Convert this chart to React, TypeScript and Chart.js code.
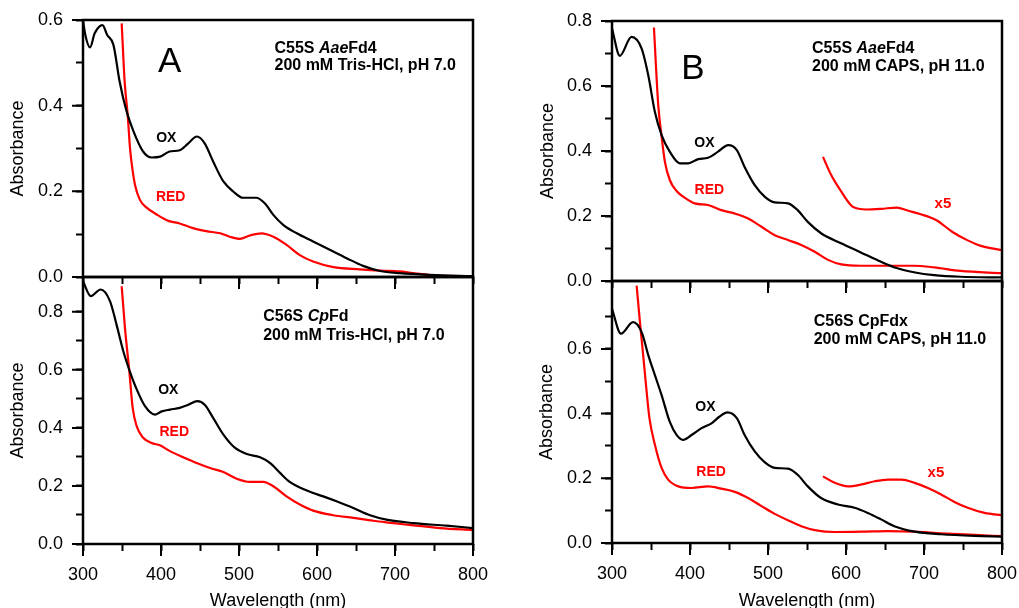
import React, { useEffect, useRef } from "react";
import { Chart, registerables } from "chart.js";

Chart.register(...registerables);

const FONT = "'Liberation Sans', Arial, Helvetica, sans-serif";
const BLACK = "#000000";
const RED = "#ff0000";

// ---------- shared axis values ----------
const xTickValues = [300, 350, 400, 450, 500, 550, 600, 650, 700, 750, 800];
const xTickLabels = ["300", "400", "500", "600", "700", "800"];
const yTickLabels = ["0.0", "0.2", "0.4", "0.6", "0.8"];
const yTicksA = [0, 0.1, 0.2, 0.3, 0.4, 0.5, 0.6];
const yTicksB = [0, 0.1, 0.2, 0.3, 0.4, 0.5, 0.6, 0.7, 0.8];
const yTicksC = [0, 0.1, 0.2, 0.3, 0.4, 0.5, 0.6, 0.7, 0.8];
const yTicksD = [0, 0.1, 0.2, 0.3, 0.4, 0.5, 0.6, 0.7];

// ---------- Panel A : C55S AaeFd4, Tris-HCl pH 7.0 ----------
const aOxWl = [300, 303, 309, 315, 325, 331, 339, 347, 356, 365, 377, 388, 399, 411, 424, 435, 446, 456, 467, 480, 493, 505, 522, 533, 544, 557, 574, 595, 617, 638, 659, 681, 706, 745, 800];
const aOxAbs = [0.600, 0.565, 0.536, 0.569, 0.588, 0.565, 0.542, 0.456, 0.386, 0.339, 0.293, 0.279, 0.281, 0.293, 0.296, 0.312, 0.328, 0.312, 0.269, 0.223, 0.199, 0.185, 0.185, 0.172, 0.145, 0.121, 0.102, 0.083, 0.063, 0.044, 0.026, 0.014, 0.009, 0.005, 0.002];
const aRedWl = [349.6, 353.4, 357.3, 360.3, 363.2, 366.7, 373, 381.6, 394.4, 409.4, 424, 441, 458, 476, 488, 501, 514, 529, 544, 561, 578, 595, 621, 655, 681, 706, 723, 749, 800];
const aRedAbs = [0.592, 0.456, 0.378, 0.300, 0.254, 0.215, 0.180, 0.162, 0.146, 0.131, 0.125, 0.114, 0.107, 0.102, 0.094, 0.089, 0.097, 0.102, 0.094, 0.075, 0.051, 0.036, 0.023, 0.018, 0.015, 0.013, 0.009, 0.004, 0.002];

// ---------- Panel B : C55S AaeFd4, CAPS pH 11.0 ----------
const bOxWl = [300, 310, 325, 338, 346.5, 355, 363.6, 374, 387, 397.7, 410.5, 423, 436, 449, 460, 470, 483, 496, 508.6, 525.6, 538, 551, 568, 593.6, 619, 645, 666, 687, 713, 747, 800];
const bOxAbs = [0.777, 0.693, 0.751, 0.715, 0.633, 0.520, 0.449, 0.398, 0.362, 0.362, 0.375, 0.379, 0.398, 0.418, 0.403, 0.351, 0.295, 0.259, 0.242, 0.239, 0.218, 0.182, 0.147, 0.116, 0.088, 0.059, 0.039, 0.027, 0.018, 0.013, 0.011];
const bRedWl = [353.8, 356.3, 359.3, 363.6, 367.8, 374.2, 382.8, 393.5, 406, 423, 440, 457, 474, 491.6, 508.6, 525.6, 542.6, 560, 577, 594, 619, 653, 687, 713, 747, 800];
const bRedAbs = [0.780, 0.664, 0.541, 0.444, 0.367, 0.310, 0.277, 0.256, 0.239, 0.234, 0.218, 0.208, 0.193, 0.167, 0.141, 0.126, 0.111, 0.090, 0.065, 0.051, 0.047, 0.047, 0.047, 0.042, 0.031, 0.024];
const bX5Wl = [570.5, 581, 594, 609, 626, 645, 665, 680, 695, 716, 737, 756, 773, 800];
const bX5Abs = [0.382, 0.326, 0.275, 0.228, 0.220, 0.222, 0.226, 0.216, 0.206, 0.187, 0.150, 0.125, 0.108, 0.095];

// ---------- Panel C : C56S CpFd, Tris-HCl pH 7.0 ----------
const cOxWl = [300, 310, 322.6, 334.6, 343, 351.7, 360, 369, 379.5, 392, 401, 411.5, 424, 435, 446.6, 456, 467, 480, 495, 510, 527, 540, 552.6, 565, 587, 608, 625, 646.6, 668, 689, 723.5, 766, 800];
const cOxAbs = [0.905, 0.854, 0.877, 0.837, 0.756, 0.664, 0.595, 0.532, 0.475, 0.446, 0.457, 0.463, 0.469, 0.480, 0.492, 0.480, 0.434, 0.377, 0.331, 0.310, 0.299, 0.279, 0.245, 0.214, 0.184, 0.164, 0.147, 0.124, 0.099, 0.084, 0.072, 0.063, 0.055];
const cRedWl = [349.6, 353.8, 359.4, 363.7, 368.8, 376.5, 388, 398.7, 411.5, 428.6, 445.7, 462.8, 480, 497, 514, 531, 544, 561, 578, 595, 621, 646.6, 672, 698, 723.5, 757.7, 800];
const cRedAbs = [0.888, 0.745, 0.595, 0.469, 0.406, 0.368, 0.348, 0.340, 0.320, 0.299, 0.279, 0.262, 0.248, 0.225, 0.214, 0.214, 0.199, 0.164, 0.136, 0.115, 0.099, 0.090, 0.080, 0.072, 0.064, 0.055, 0.048];

// ---------- Panel D : C56S CpFdx, CAPS pH 11.0 ----------
const dOxWl = [300, 311.5, 327, 338, 346.5, 355, 363.6, 374, 382.8, 391, 402, 414.8, 427.6, 438, 448, 460, 470, 483, 496, 508.6, 525.6, 538, 551, 568, 589.6, 611, 628, 645, 662, 688, 722, 765, 800];
const dOxAbs = [0.724, 0.647, 0.683, 0.652, 0.581, 0.519, 0.457, 0.375, 0.334, 0.319, 0.334, 0.355, 0.370, 0.391, 0.404, 0.386, 0.334, 0.283, 0.249, 0.232, 0.230, 0.211, 0.175, 0.139, 0.119, 0.109, 0.093, 0.073, 0.052, 0.035, 0.027, 0.022, 0.020];
const dRedWl = [331.6, 335.8, 340, 344, 348, 355, 363.6, 372, 385, 402, 423, 440, 457.5, 474.5, 491.6, 508.6, 525.6, 542.7, 560, 585.5, 620, 653.8, 688, 722, 765, 800];
const dRedAbs = [0.796, 0.683, 0.580, 0.478, 0.386, 0.304, 0.232, 0.196, 0.175, 0.170, 0.175, 0.168, 0.158, 0.139, 0.114, 0.090, 0.070, 0.052, 0.040, 0.034, 0.035, 0.037, 0.035, 0.030, 0.025, 0.021];
const dX5Wl = [570.5, 585.5, 602.6, 620, 637, 653.8, 671, 688, 705, 722, 739, 756, 777.6, 800];
const dX5Abs = [0.206, 0.186, 0.175, 0.181, 0.191, 0.196, 0.196, 0.186, 0.170, 0.150, 0.127, 0.109, 0.093, 0.086];

type Seg = { text: string; italic?: boolean };
type Note = { x: number; y: number; segs: Seg[]; size: number; bold: boolean; color: string; align: "left" | "center" };
type Series = { wl: number[]; abs: number[]; color: string };
type PanelCfg = {
  id: string;
  left: number; top: number; width: number; height: number;
  padTop: number; padRight: number; yAxisW: number; xAxisH: number;
  yMax: number; yTicks: number[]; yTitlePad: number; bottom: boolean;
  series: Series[]; notes: Note[];
};

const title = (x: number, y1: number, y2: number, l1: Seg[], l2: string): Note[] => [
  { x, y: y1, segs: l1, size: 16, bold: true, color: BLACK, align: "left" },
  { x, y: y2, segs: [{ text: l2 }], size: 16, bold: true, color: BLACK, align: "left" },
];
const lab = (x: number, y: number, text: string, color: string, size = 14, bold = true): Note => ({
  x, y, segs: [{ text }], size, bold, color, align: "center",
});

const panels: PanelCfg[] = [
  {
    id: "A", left: 0, top: 0, width: 500, height: 300,
    padTop: 20, padRight: 27, yAxisW: 83, xAxisH: 23,
    yMax: 0.6, yTicks: yTicksA, yTitlePad: 7, bottom: false,
    series: [
      { wl: aOxWl, abs: aOxAbs, color: BLACK },
      { wl: aRedWl, abs: aRedAbs, color: RED },
    ],
    notes: [
      lab(411, 0.5015, "A", BLACK, 35, false),
      ...title(545.5, 0.533, 0.4933, [{ text: "C55S " }, { text: "Aae", italic: true }, { text: "Fd4" }], "200 mM Tris-HCl, pH 7.0"),
      lab(406.8, 0.3245, "OX", BLACK),
      lab(412.4, 0.1868, "RED", RED),
    ],
  },
  {
    id: "B", left: 520, top: 0, width: 499, height: 300,
    padTop: 21, padRight: 17, yAxisW: 92, xAxisH: 19,
    yMax: 0.8, yTicks: yTicksB, yTitlePad: 17, bottom: false,
    series: [
      { wl: bOxWl, abs: bOxAbs, color: BLACK },
      { wl: bRedWl, abs: bRedAbs, color: RED },
      { wl: bX5Wl, abs: bX5Abs, color: RED },
    ],
    notes: [
      lab(403.8, 0.651, "B", BLACK, 35, false),
      ...title(556.5, 0.715, 0.6586, [{ text: "C55S " }, { text: "Aae", italic: true }, { text: "Fd4" }], "200 mM CAPS, pH 11.0"),
      lab(418.4, 0.424, "OX", BLACK),
      lab(424.8, 0.2797, "RED", RED),
      lab(724.2, 0.2388, "x5", RED, 15),
    ],
  },
  {
    id: "C", left: 0, top: 260, width: 500, height: 360,
    padTop: 17, padRight: 27, yAxisW: 83, xAxisH: 76,
    yMax: 0.92, yTicks: yTicksC, yTitlePad: 7, bottom: true,
    series: [
      { wl: cOxWl, abs: cOxAbs, color: BLACK },
      { wl: cRedWl, abs: cRedAbs, color: RED },
    ],
    notes: [
      ...title(531, 0.783, 0.718, [{ text: "C56S " }, { text: "Cp", italic: true }, { text: "Fd" }], "200 mM Tris-HCl, pH 7.0"),
      lab(409.4, 0.53, "OX", BLACK),
      lab(417, 0.384, "RED", RED),
    ],
  },
  {
    id: "D", left: 520, top: 260, width: 499, height: 360,
    padTop: 21, padRight: 17, yAxisW: 92, xAxisH: 77,
    yMax: 0.81, yTicks: yTicksD, yTitlePad: 16, bottom: true,
    series: [
      { wl: dOxWl, abs: dOxAbs, color: BLACK },
      { wl: dRedWl, abs: dRedAbs, color: RED },
      { wl: dX5Wl, abs: dX5Abs, color: RED },
    ],
    notes: [
      ...title(558.6, 0.686, 0.629, [{ text: "C56S CpFdx" }], "200 mM CAPS, pH 11.0"),
      lab(419.7, 0.419, "OX", BLACK),
      lab(427, 0.22, "RED", RED),
      lab(715.3, 0.216, "x5", RED, 15),
    ],
  },
];

const isMajorX = (v: number) => v % 100 === 0;
const isMajorY = (v: number) => Math.round(v * 10) % 2 === 0;

function Panel({ cfg }: { cfg: PanelCfg }) {
  const ref = useRef<HTMLCanvasElement | null>(null);

  useEffect(() => {
    const canvas = ref.current;
    if (!canvas) return;

    const decor = {
      id: "decor" + cfg.id,
      afterDatasetsDraw(chart: any) {
        const { ctx, chartArea: a } = chart;
        const xs = chart.scales.x;
        const ys = chart.scales.y;
        ctx.save();
        // frame
        ctx.strokeStyle = BLACK;
        ctx.lineWidth = 2.5;
        ctx.strokeRect(a.left, a.top, a.right - a.left, a.bottom - a.top);
        // longer major ticks
        ctx.lineWidth = 2;
        ctx.beginPath();
        xTickValues.filter(isMajorX).forEach((v) => {
          const p = xs.getPixelForValue(v);
          ctx.moveTo(p, a.bottom);
          ctx.lineTo(p, a.bottom + 12);
        });
        cfg.yTicks.filter(isMajorY).forEach((v) => {
          const p = ys.getPixelForValue(v);
          ctx.moveTo(a.left - 11, p);
          ctx.lineTo(a.left, p);
        });
        ctx.stroke();
        // annotations
        ctx.textBaseline = "middle";
        ctx.textAlign = "left";
        cfg.notes.forEach((n) => {
          const fontOf = (s: Seg) =>
            `${s.italic ? "italic " : ""}${n.bold ? "bold " : ""}${n.size}px ${FONT}`;
          let total = 0;
          n.segs.forEach((s) => {
            ctx.font = fontOf(s);
            total += ctx.measureText(s.text).width;
          });
          let px = xs.getPixelForValue(n.x);
          const py = ys.getPixelForValue(n.y);
          if (n.align === "center") px -= total / 2;
          ctx.fillStyle = n.color;
          n.segs.forEach((s) => {
            ctx.font = fontOf(s);
            ctx.fillText(s.text, px, py);
            px += ctx.measureText(s.text).width;
          });
        });
        ctx.restore();
      },
    };

    const zeroPad = (s: any) => {
      s.paddingTop = 0;
      s.paddingBottom = 0;
      s.paddingLeft = 0;
      s.paddingRight = 0;
    };

    const chart = new Chart(canvas, {
      type: "line",
      data: {
        datasets: cfg.series.map((s) => ({
          data: s.wl.map((x, i) => ({ x, y: s.abs[i] })),
          borderColor: s.color,
          backgroundColor: s.color,
          borderWidth: 2.2,
          pointRadius: 0,
          fill: false,
          cubicInterpolationMode: "monotone" as const,
        })),
      },
      options: {
        animation: false,
        responsive: false,
        events: [],
        layout: { padding: { top: cfg.padTop, right: cfg.padRight, left: 0, bottom: 0 } },
        plugins: { legend: { display: false }, tooltip: { enabled: false } },
        scales: {
          x: {
            type: "linear",
            min: 300,
            max: 800,
            afterBuildTicks: (s: any) => {
              s.ticks = xTickValues.map((v) => ({ value: v }));
            },
            afterFit: (s: any) => {
              s.height = cfg.xAxisH;
              zeroPad(s);
            },
            ticks: {
              display: cfg.bottom,
              autoSkip: false,
              maxRotation: 0,
              padding: 13,
              color: BLACK,
              font: { family: FONT, size: 18 },
              callback: (v: any) => (xTickLabels.includes(String(v)) ? String(v) : ""),
            },
            grid: { drawOnChartArea: false, drawTicks: true, tickLength: 7, tickWidth: 2, tickColor: BLACK },
            border: { display: false },
            title: {
              display: cfg.bottom,
              text: "Wavelength (nm)",
              color: BLACK,
              font: { family: FONT, size: 18 },
              padding: { top: 0, bottom: 8 },
            },
          },
          y: {
            type: "linear",
            min: 0,
            max: cfg.yMax,
            afterBuildTicks: (s: any) => {
              s.ticks = cfg.yTicks.map((v) => ({ value: v }));
            },
            afterFit: (s: any) => {
              s.width = cfg.yAxisW;
              zeroPad(s);
            },
            ticks: {
              autoSkip: false,
              padding: 13,
              color: BLACK,
              font: { family: FONT, size: 18 },
              callback: (v: any) => {
                const t = Number(v).toFixed(1);
                return yTickLabels.includes(t) ? t : "";
              },
            },
            grid: { drawOnChartArea: false, drawTicks: true, tickLength: 7, tickWidth: 2, tickColor: BLACK },
            border: { display: false },
            title: {
              display: true,
              text: "Absorbance",
              color: BLACK,
              font: { family: FONT, size: 18 },
              padding: { top: cfg.yTitlePad, bottom: 0 },
            },
          },
        },
      },
      plugins: [decor],
    } as any);

    return () => chart.destroy();
  }, [cfg]);

  return (
    <canvas
      ref={ref}
      width={cfg.width}
      height={cfg.height}
      style={{ position: "absolute", left: cfg.left, top: cfg.top, width: cfg.width, height: cfg.height }}
    />
  );
}

export default function App() {
  return (
    <div
      style={{
        position: "absolute",
        left: 0,
        top: 0,
        width: 1019,
        height: 608,
        overflow: "hidden",
        background: "#ffffff",
      }}
    >
      {panels.map((p) => (
        <Panel key={p.id} cfg={p} />
      ))}
    </div>
  );
}
